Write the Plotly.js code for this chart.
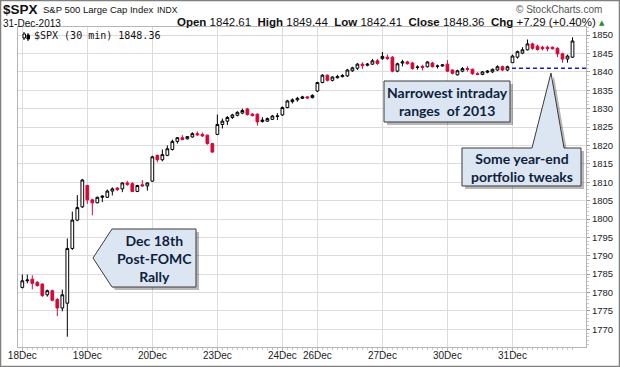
<!DOCTYPE html>
<html><head><meta charset="utf-8">
<script src="https://cdn.plot.ly/plotly-3.0.1.min.js"></script>
<style>html,body{margin:0;padding:0;background:#fff}#chart{width:620px;height:367px}</style>
</head><body><div id="chart"></div>
<script>
// ---- data ----
const dayLabels = ['18Dec','19Dec','20Dec','23Dec','24Dec','26Dec','27Dec','30Dec','31Dec'];
const barsPerDay = [13,13,13,13,7,13,13,13,13];
const openVals = [
1781.4,1783.2,1783.6,1782.8,1782.3,1779.4,1780.5,1778.1,1775.8,1777.1,1792.0,1799.7,1803.3,
1809.1,1805.2,1804.4,1805.9,1805.9,1807.6,1808.4,1808.2,1809.8,1809.6,1807.5,1809.3,1809.0,
1810.3,1817.3,1816.1,1817.3,1818.9,1821.1,1822.1,1821.8,1822.3,1823.2,1823.0,1822.8,1820.5,
1823.0,1825.7,1826.6,1827.6,1828.2,1828.8,1829.9,1828.5,1828.5,1826.5,1826.6,1827.1,1827.9,
1828.3,1830.3,1831.9,1832.4,1832.8,1833.2,1833.0,
1834.8,1837.1,1839.1,1837.7,1838.4,1838.7,1838.9,1840.3,1841.0,1842.1,1841.8,1842.1,1843.0,
1843.6,1844.0,1844.0,1840.2,1842.4,1842.7,1842.4,1841.2,1841.5,1841.4,1842.4,1841.5,1841.6,
1842.1,1840.5,1839.2,1840.2,1840.9,1840.7,1839.5,1839.3,1839.9,1840.0,1840.5,1841.4,1840.5,
1842.5,1844.0,1845.1,1846.0,1847.6,1847.0,1846.7,1846.7,1846.7,1846.4,1844.9,1843.5,1844.0];
const highVals = [
1784.9,1784.9,1784.7,1783.1,1782.5,1780.8,1780.8,1778.5,1780.8,1794.7,1802.0,1806.5,1810.9,
1809.3,1805.5,1806.1,1806.5,1808.0,1808.6,1808.7,1810.0,1810.4,1810.0,1809.3,1810.6,1810.0,
1817.2,1817.5,1818.9,1820.0,1821.6,1822.3,1822.8,1822.5,1823.6,1823.8,1823.5,1822.9,1820.7,
1828.4,1827.3,1828.0,1828.6,1829.3,1830.0,1830.2,1828.8,1828.7,1827.7,1827.6,1828.3,1828.8,
1830.6,1832.4,1832.8,1833.2,1833.5,1833.4,1833.9,
1837.3,1839.4,1839.3,1838.8,1839.2,1839.4,1840.8,1841.4,1842.4,1842.6,1842.4,1843.5,1843.5,
1845.4,1844.7,1844.3,1842.5,1843.3,1843.0,1842.7,1841.8,1841.9,1842.9,1842.7,1842.0,1842.1,
1843.2,1840.7,1840.6,1841.3,1841.5,1840.9,1839.9,1840.2,1840.5,1840.9,1841.8,1841.7,1841.7,
1844.7,1845.8,1846.7,1848.8,1847.9,1847.4,1847.1,1847.1,1846.9,1846.7,1845.2,1844.7,1849.4];
const lowVals = [
1781.1,1782.5,1780.9,1781.6,1778.8,1778.9,1777.6,1773.6,1774.9,1768.0,1791.6,1799.4,1803.0,
1804.1,1801.0,1804.3,1804.6,1805.7,1806.4,1807.6,1807.3,1809.0,1807.3,1807.3,1808.8,1807.7,
1810.1,1815.4,1815.7,1817.1,1818.6,1820.5,1821.4,1821.6,1822.1,1822.6,1822.3,1820.2,1818.0,
1822.8,1824.6,1825.5,1827.2,1827.9,1828.5,1828.1,1827.9,1825.4,1826.2,1826.4,1826.9,1826.9,
1828.0,1830.1,1831.4,1831.9,1832.6,1832.7,1832.8,
1834.5,1836.9,1837.4,1837.4,1838.2,1838.5,1838.6,1840.0,1840.5,1840.8,1841.5,1841.9,1841.9,
1843.3,1843.3,1839.9,1839.9,1841.5,1842.0,1840.6,1840.6,1840.4,1841.2,1841.2,1840.9,1841.4,
1840.0,1839.3,1839.0,1839.9,1840.1,1839.2,1839.1,1839.1,1839.6,1839.7,1840.2,1840.2,1840.2,
1842.4,1843.6,1844.8,1845.8,1846.0,1845.8,1845.8,1845.6,1846.1,1844.0,1842.5,1842.5,1843.8];
const closeVals = [
1783.2,1783.4,1782.5,1781.9,1779.2,1780.5,1777.9,1775.8,1779.4,1792.0,1799.7,1803.1,1810.6,
1805.2,1804.4,1805.9,1806.2,1807.6,1808.2,1808.0,1809.8,1809.4,1807.5,1809.1,1809.0,1809.8,
1816.9,1816.1,1817.5,1819.1,1821.1,1822.1,1821.6,1822.4,1823.2,1822.9,1822.6,1820.5,1818.2,
1825.7,1826.6,1827.6,1828.3,1829.0,1829.5,1828.4,1828.1,1826.4,1826.9,1827.3,1828.0,1828.0,
1830.3,1832.1,1832.4,1832.8,1833.2,1832.9,1833.6,
1837.1,1839.1,1837.7,1838.6,1838.7,1839.0,1840.5,1841.1,1842.1,1841.7,1842.1,1843.0,1842.3,
1844.2,1843.6,1840.2,1842.2,1842.7,1842.2,1840.9,1841.3,1841.2,1842.7,1841.4,1841.6,1841.9,
1840.2,1839.6,1840.3,1840.9,1840.7,1839.5,1839.3,1840.0,1840.2,1840.7,1841.4,1840.5,1841.4,
1844.3,1845.5,1846.0,1847.6,1846.4,1846.1,1846.3,1846.3,1846.3,1844.9,1843.5,1844.3,1848.4];
const narrowRangeLevel = 1841.0;
const yTicks = [1770,1775,1780,1785,1790,1795,1800,1805,1810,1815,1820,1825,1830,1835,1840,1845,1850];

// ---- derived ----
const xIdx = openVals.map((_, i) => i);
const dayStarts = [];
barsPerDay.reduce((acc, n) => { dayStarts.push(acc); return acc + n; }, 0);

// pixel -> paper helpers for decorations
const L = 18, T = 27, W = 568, H = 320;
const px = X => (X - L) / W;
const py = Y => 1 - (Y - T) / H;
const path = pts => 'M ' + pts.map(p => px(p[0]).toFixed(5) + ' ' + py(p[1]).toFixed(5)).join(' L ') + ' Z';
const shift = (pts, d) => pts.map(p => [p[0] + d, p[1] + d]);

const box1 = [[93,258],[112,229],[196,229],[196,287],[112,287]];
const box2 = [[384,81],[510,81],[510,122],[384,122]];
const box3 = [[462,148],[532,148],[551,73],[564,148],[581,148],[581,186],[462,186]];

const fillC = '#dce6f2', edgeC = '#3a3a3a', shadowC = 'rgba(0,0,0,0.28)';
const shapes = [];
[box1, box2, box3].forEach(b => {
  shapes.push({type:'path', xref:'paper', yref:'paper', path:path(shift(b,3)), fillcolor:shadowC, line:{width:0}, layer:'above'});
});
[box1, box2, box3].forEach(b => {
  shapes.push({type:'path', xref:'paper', yref:'paper', path:path(b), fillcolor:fillC, line:{color:edgeC, width:1}, layer:'above'});
});
// dashed level line
shapes.push({type:'line', xref:'x', yref:'y', x0:dayStarts[8]-0.1, x1:112.7, y0:narrowRangeLevel, y1:narrowRangeLevel,
  line:{color:'#1a1acc', width:1.5, dash:'4px,3px'}, layer:'above'});
// outer frame
shapes.push({type:'rect', xref:'paper', yref:'paper', x0:px(0.5), x1:px(619.5), y0:py(0.5), y1:py(366.5), line:{color:'#808080', width:1.5}, fillcolor:'rgba(0,0,0,0)'});
// tiny legend icon
shapes.push({type:'line', xref:'paper', yref:'paper', x0:px(24), x1:px(24), y0:py(32), y1:py(40), line:{color:'#000', width:1}});
shapes.push({type:'rect', xref:'paper', yref:'paper', x0:px(23), x1:px(25.5), y0:py(34), y1:py(38), line:{color:'#000', width:1}, fillcolor:'#fff'});
shapes.push({type:'line', xref:'paper', yref:'paper', x0:px(28), x1:px(28), y0:py(33), y1:py(41), line:{color:'#000', width:1}});
shapes.push({type:'rect', xref:'paper', yref:'paper', x0:px(27), x1:px(29.5), y0:py(35), y1:py(39), line:{color:'#000', width:1}, fillcolor:'#000'});

const cf = {family:'Lato, "Open Sans", sans-serif', size:14, color:'#0f1f3d'};
const hf = 'Liberation Sans, Arial, sans-serif';
const ann = (text, X, Y, font, xanchor) => ({text, x:px(X), y:py(Y), xref:'paper', yref:'paper', showarrow:false,
  xanchor:xanchor||'left', yanchor:'middle', font, align:'center', borderpad:0});

const annotations = [
  ann('<b>$SPX</b>', 2, 9, {family:hf, size:13.5, color:'#111'}),
  ann('S&amp;P 500 Large Cap Index', 42, 10, {family:hf, size:9.5, color:'#111'}),
  ann('INDX', 156, 10, {family:hf, size:8.5, color:'#111'}),
  ann('© StockCharts.com', 603, 10, {family:hf, size:10, color:'#555'}, 'right'),
  ann('31-Dec-2013', 2, 23.5, {family:hf, size:10, color:'#111'}),
  ann('<b>Open</b> 1842.61  <b>High</b> 1849.44  <b>Low</b> 1842.41  <b>Close</b> 1848.36  <b>Chg</b> +7.29 (+0.40%)', 597, 22.5, {family:hf, size:11.5, color:'#111'}, 'right'),
  ann('▲', 598, 23, {family:'DejaVu Sans', size:7, color:'#2a8a2a'}),
  ann('$SPX (30 min) 1848.36', 33, 36, {family:'DejaVu Sans Mono, monospace', size:10, color:'#111'}),
  ann('<b>Dec 18th</b><br><b>Post-FOMC</b><br><b>Rally</b>', 154, 258, cf, 'center'),
  ann('<b>Narrowest intraday</b><br><b>ranges  of 2013</b>', 447, 101.5, cf, 'center'),
  ann('<b>Some year-end</b><br><b>portfolio tweaks</b>', 521.5, 167, cf, 'center')
];

const trace = {
  type:'candlestick', x:xIdx, open:openVals, high:highVals, low:lowVals, close:closeVals,
  increasing:{line:{color:'#000', width:1}, fillcolor:'#ffffff'},
  decreasing:{line:{color:'#cf0a3a', width:1}, fillcolor:'#cf0a3a'},
  whiskerwidth:0, hoverinfo:'skip', showlegend:false
};

const layout = {
  width:620, height:367, margin:{l:L, r:620-L-W, t:T, b:367-T-H},
  paper_bgcolor:'#fff', plot_bgcolor:'#fff', showlegend:false, boxgap:0.22,
  xaxis:{range:[-0.86, 112.7], tickmode:'array', tickvals:dayStarts, ticktext:dayLabels,
    showgrid:true, gridcolor:'#dcdcdc', gridwidth:1, showline:true, mirror:true, linecolor:'#b5b5b5',
    ticks:'outside', ticklen:3, tickcolor:'#b5b5b5', zeroline:false, ticklabelstandoff:-4,
    tickfont:{family:hf, size:10, color:'#222'}, rangeslider:{visible:false}, fixedrange:true,
    minor:{tickvals:xIdx, ticks:'outside', ticklen:2, tickcolor:'#c8c8c8', showgrid:false}},
  yaxis:{range:[1765.2, 1852.2], side:'right', tickmode:'array', tickvals:yTicks, ticktext:yTicks.map(String),
    showgrid:true, gridcolor:'#dcdcdc', gridwidth:1, showline:true, mirror:true, linecolor:'#b5b5b5',
    ticks:'outside', ticklen:3, tickcolor:'#999', zeroline:false,
    tickfont:{family:hf, size:9.5, color:'#222'}, fixedrange:true,
    minor:{dtick:1, ticks:'outside', ticklen:2, tickcolor:'#c8c8c8', showgrid:false}},
  shapes, annotations
};

Plotly.newPlot('chart', [trace], layout, {staticPlot:true, displayModeBar:false});
</script>
</body></html>
